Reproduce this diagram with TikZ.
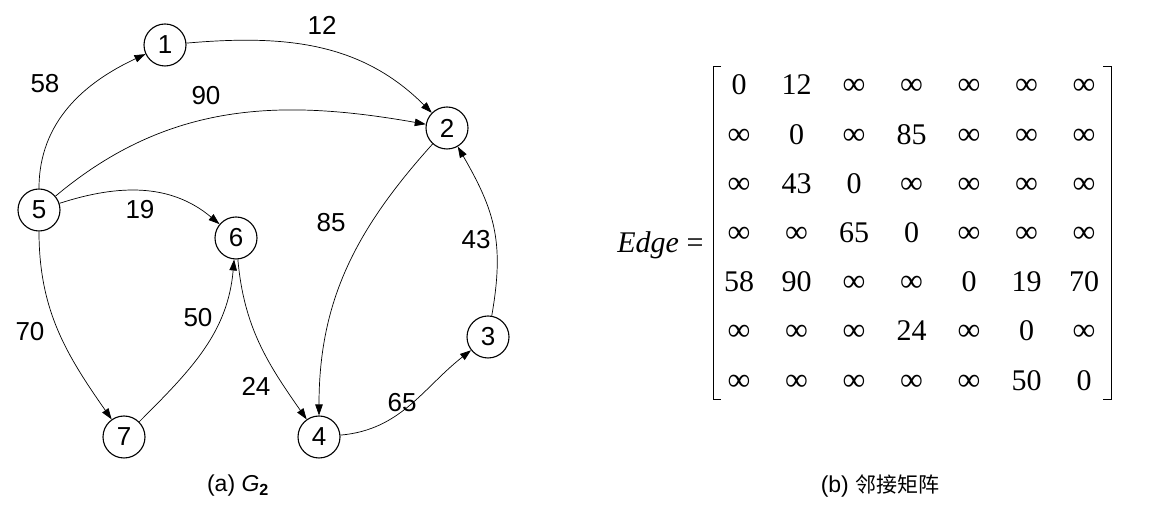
\documentclass[tikz,border=0pt]{standalone}
\usepackage{fontspec}
\setmainfont{Liberation Serif}
\newfontfamily\arial{Liberation Sans}
\newfontfamily\cjk{Noto Sans CJK SC}
\usetikzlibrary{arrows.meta}
\newcommand{\infsym}{{\fontsize{32}{32}\selectfont ∞}}

\begin{document}
\begin{tikzpicture}[x=1pt, y=1pt, >={Triangle[length=11pt,width=7.5pt]},
  vertex/.style={circle, draw, line width=1.1pt, minimum size=42pt, inner sep=0pt,
    font=\arial\fontsize{26}{26}\selectfont},
  link/.style={->, line width=0.7pt},
  weight/.style={font=\arial\fontsize{26}{26}\selectfont},
  entry/.style={font=\fontsize{30}{30}\selectfont, text height=20pt, text depth=0pt},
  caption/.style={font=\arial\fontsize{23}{23}\selectfont}]
  \useasboundingbox (0,0) rectangle (1164,505);
  % Vertices of G2
  \node[vertex] (v1) at (165,460) {1};
  \node[vertex] (v2) at (447,377) {2};
  \node[vertex] (v3) at (488,168) {3};
  \node[vertex] (v4) at (319,68)  {4};
  \node[vertex] (v5) at (39,295)  {5};
  \node[vertex] (v6) at (236,267) {6};
  \node[vertex] (v7) at (124,68)  {7};
  % Directed edges
  \draw[link] (v5) to[out=90, in=205]  (v1);
  \draw[link] (v1) to[out=5, in=135]   (v2);
  \draw[link] (v5) to[out=40, in=170]  (v2);
  \draw[link] (v5) to[out=18, in=140]  (v6);
  \draw[link] (v5) to[out=-90, in=125] (v7);
  \draw[link] (v7) to[out=45, in=-95]  (v6);
  \draw[link] (v6) to[out=-85, in=125] (v4);
  \draw[link] (v2) to[out=228, in=90]  (v4);
  \draw[link] (v4) to[out=5, in=218]   (v3);
  \draw[link] (v3) to[out=80, in=-60, looseness=1.1] (v2);
  % Weights
  \node[weight] (w51) at (45,421)  {58};
  \node[weight] (w12) at (322,480) {12};
  \node[weight] (w52) at (206,409) {90};
  \node[weight] (w56) at (140,295) {19};
  \node[weight] (w57) at (30,173)  {70};
  \node[weight] (w76) at (198,187) {50};
  \node[weight] (w64) at (256,119) {24};
  \node[weight] (w24) at (331,282) {85};
  \node[weight] (w43) at (402,102) {65};
  \node[weight] (w32) at (476,265) {43};
  \node[caption] (capa) at (238,19) {(a) {\itshape G}\textsubscript{\bfseries 2}};
  % Adjacency matrix
  \node[entry, anchor=east] (lhs) at (707,262) {{\itshape Edge} =};
  \foreach \row [count=\i] in {
      {0,12,\infsym,\infsym,\infsym,\infsym,\infsym},
      {\infsym,0,\infsym,85,\infsym,\infsym,\infsym},
      {\infsym,43,0,\infsym,\infsym,\infsym,\infsym},
      {\infsym,\infsym,65,0,\infsym,\infsym,\infsym},
      {58,90,\infsym,\infsym,0,19,70},
      {\infsym,\infsym,\infsym,24,\infsym,0,\infsym},
      {\infsym,\infsym,\infsym,\infsym,\infsym,50,0}} {
    \foreach \val [count=\j] in \row
      \node[entry] (m\i\j) at ({739+57.5*(\j-1)}, {420-49.2*(\i-1)}) {\val};
  }
  \draw[line width=0.9pt] (721,439) -- (713,439) -- (713,106) -- (721,106);
  \draw[line width=0.9pt] (1103,439) -- (1111,439) -- (1111,106) -- (1103,106);
  \node[caption] (capb) at (880,19) {(b) {\cjk\fontsize{21}{21}\selectfont 邻接矩阵}};
\end{tikzpicture}
\end{document}
